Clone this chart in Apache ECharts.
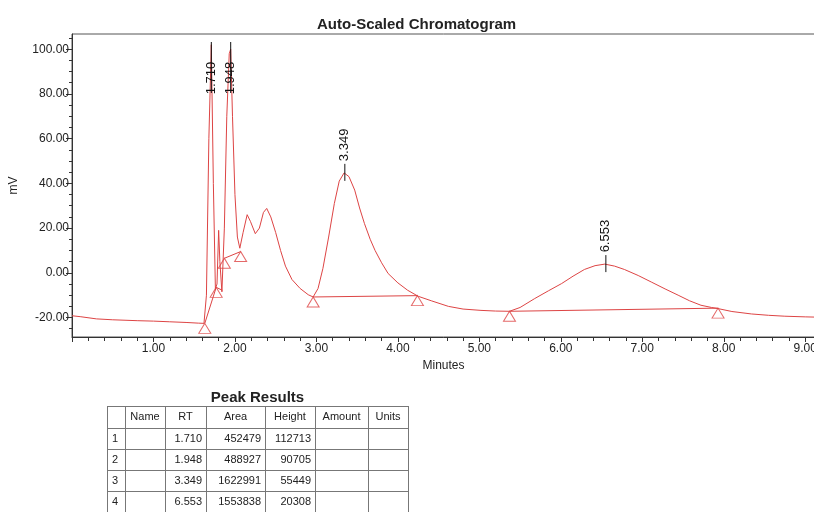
<!DOCTYPE html>
<html>
<head>
<meta charset="utf-8">
<script src="https://cdn.jsdelivr.net/npm/echarts@6/dist/echarts.min.js"></script>
<style>
  html, body { margin: 0; padding: 0; background: #fff; }
  #chart { width: 814px; height: 512px; }
</style>
</head>
<body>
<div id="chart"></div>
<script>
// detector trace, minutes vs mV
const traceTime = [0.00, 0.10, 0.30, 0.50, 0.80, 1.00, 1.20, 1.40, 1.55, 1.62, 1.65, 1.68, 1.71, 1.735, 1.76, 1.78, 1.80, 1.815, 1.84,
  1.87, 1.90, 1.93, 1.948, 1.97, 2.00, 2.03, 2.06, 2.10, 2.15, 2.19, 2.25, 2.30, 2.35, 2.39, 2.44, 2.50, 2.56, 2.62, 2.70, 2.80,
  2.90, 2.96, 3.02, 3.08, 3.15, 3.22, 3.28, 3.34, 3.40, 3.47, 3.53, 3.59, 3.66, 3.72, 3.80, 3.88, 4.00, 4.12, 4.25, 4.41, 4.62,
  4.80, 5.02, 5.20, 5.37, 5.50, 5.68, 5.85, 6.01, 6.15, 6.29, 6.42, 6.54, 6.66, 6.78, 6.95, 7.11, 7.28, 7.44, 7.58, 7.72, 7.85,
  7.93, 8.10, 8.34, 8.55, 8.75, 9.00, 9.12]
const traceMv = [-19.2, -19.6, -20.6, -21.0, -21.4, -21.6, -21.9, -22.2, -22.5, -22.6, -10, 60, 102, 40, -7, -5, 19, 5, -8.5,
  20, 70, 98, 100, 70, 35, 16, 11, 18, 26, 23, 17.5, 20, 27, 28.8, 25, 18, 10, 3, -3, -7,
  -9.8, -10.8, -7, 2, 16, 31, 41, 44.7, 43, 37, 29, 22, 15, 10, 4.5, -0.3, -4.5, -7.8, -10.5, -12.5, -15,
  -16.2, -16.8, -17.1, -17.2, -15.5, -11.5, -8, -4.8, -1.5, 1.5, 3.2, 3.9, 3, 1.5, -1.2, -4.1, -7.2, -10, -12.5, -14.5, -15.5,
  -16, -17.3, -18.4, -19, -19.4, -19.7, -19.8]

// integration baselines (start / end points)
const baselines = [
  [[1.63, -22.6], [1.77, -6.5]],
  [[1.77, -6.5], [1.845, -7.8]],
  [[1.87, 6.5], [2.07, 9.5]],
  [[2.96, -10.8], [4.24, -10.2]],
  [[5.37, -17.2], [7.93, -15.8]]
]
const markerTime = [1.63, 1.77, 1.87, 2.07, 2.96, 4.24, 5.37, 7.93]
const markerMv = [-22.6, -6.5, 6.5, 9.5, -10.8, -10.2, -17.2, -15.8]

// peak apex
const peakRT = [1.710, 1.948, 3.349, 6.553]
const peakApex = [102, 100, 44.7, 3.9]

const yLabels = [-20, 0, 20, 40, 60, 80, 100]
const yMinor = [-25, -20, -15, -10, -5, 0, 5, 10, 15, 20, 25, 30, 35, 40, 45, 50, 55, 60, 65, 70, 75, 80, 85, 90, 95, 100, 105]

const tableHeader = ['', 'Name', 'RT', 'Area', 'Height', 'Amount', 'Units']
const tableRows = [
  ['1', '', '1.710', '452479', '112713', '', ''],
  ['2', '', '1.948', '488927', '90705', '', ''],
  ['3', '', '3.349', '1622991', '55449', '', ''],
  ['4', '', '6.553', '1553838', '20308', '', '']
]

const RED = '#dd4444'
const FONT = '"Liberation Sans", Arial, sans-serif'

// table layout
const colX = [107, 125, 165, 206, 265, 315, 368, 408]
const rowY = [406, 428, 449, 470, 491, 512]

function buildTable () {
  const els = []
  els.push({
    type: 'text', x: (colX[0] + colX[colX.length - 1]) / 2, y: 398,
    style: { text: 'Peak Results', font: 'bold 15px ' + FONT, fill: '#222', align: 'center', verticalAlign: 'middle' }
  })
  colX.forEach(x => {
    els.push({ type: 'line', shape: { x1: x + 0.5, y1: rowY[0], x2: x + 0.5, y2: rowY[rowY.length - 1] }, style: { stroke: '#777', lineWidth: 1 } })
  })
  rowY.forEach(y => {
    els.push({ type: 'line', shape: { x1: colX[0], y1: y + 0.5, x2: colX[colX.length - 1], y2: y + 0.5 }, style: { stroke: '#777', lineWidth: 1 } })
  })
  tableHeader.forEach((t, c) => {
    els.push({
      type: 'text', x: (colX[c] + colX[c + 1]) / 2, y: (rowY[0] + rowY[1]) / 2,
      style: { text: t, font: '11px ' + FONT, fill: '#222', align: 'center', verticalAlign: 'middle' }
    })
  })
  tableRows.forEach((row, r) => {
    const cy = (rowY[r + 1] + rowY[r + 2]) / 2
    row.forEach((t, c) => {
      if (!t) return
      const left = c === 0
      els.push({
        type: 'text', x: left ? colX[c] + 5 : colX[c + 1] - 4, y: cy,
        style: { text: t, font: '11px ' + FONT, fill: '#222', align: left ? 'left' : 'right', verticalAlign: 'middle' }
      })
    })
  })
  return els
}

const chart = echarts.init(document.getElementById('chart'), null, { renderer: 'canvas' })

const series = [
  {
    name: 'trace',
    type: 'line',
    data: traceTime.map((t, i) => [t, traceMv[i]]),
    showSymbol: false,
    lineStyle: { color: RED, width: 1 },
    z: 3
  }
]
baselines.forEach(seg => {
  series.push({
    type: 'line',
    data: seg,
    showSymbol: false,
    lineStyle: { color: RED, width: 1 },
    z: 3
  })
})
series.push({
  type: 'scatter',
  data: markerTime.map((t, i) => [t, markerMv[i]]),
  symbol: 'triangle',
  symbolSize: [12, 10],
  symbolOffset: [0, 5],
  itemStyle: { color: 'rgba(0,0,0,0)', borderColor: RED, borderWidth: 1 },
  z: 4
})
series.push({
  type: 'custom',
  clip: false,
  z: 5,
  data: peakRT.map((t, i) => [t, peakApex[i]]),
  renderItem: function (params, api) {
    const p = api.coord([api.value(0), api.value(1)])
    const top = params.coordSys.y
    const label = api.value(0).toFixed(3)
    const textLen = 34
    let textBottom = p[1] - 11
    let lineTop = p[1] - 9
    let lineBottom = p[1] + 8
    if (textBottom - textLen < top + 26) {
      // no room above the apex: push label down inside the plot
      textBottom = top + 61
      lineTop = top + 8
      lineBottom = textBottom - 2
    }
    return {
      type: 'group',
      children: [
        { type: 'line', shape: { x1: p[0], y1: lineTop, x2: p[0], y2: lineBottom }, style: { stroke: '#111', lineWidth: 1 } },
        {
          type: 'text', x: p[0], y: textBottom - textLen / 2, rotation: Math.PI / 2,
          style: { text: label, font: '13px ' + FONT, fill: '#111', align: 'center', verticalAlign: 'middle' }
        }
      ]
    }
  }
})

const option = {
  animation: false,
  backgroundColor: '#fff',
  title: {
    text: 'Auto-Scaled Chromatogram',
    left: 312,
    top: 12,
    textStyle: { fontFamily: FONT, fontSize: 15, fontWeight: 'bold', color: '#222' }
  },
  grid: {
    left: 72,
    top: 34,
    right: -1,
    bottom: 175,
    outerBoundsMode: 'none',
    containLabel: false,
    show: true,
    borderColor: '#555',
    borderWidth: 1
  },
  xAxis: {
    type: 'value',
    min: 0,
    max: 9.12,
    interval: 1,
    name: 'Minutes',
    nameLocation: 'middle',
    nameGap: 20,
    nameTextStyle: { fontFamily: FONT, fontSize: 12, color: '#222' },
    axisLine: { onZero: false, lineStyle: { color: '#333' } },
    axisTick: { length: 5, lineStyle: { color: '#333' } },
    minorTick: { show: true, splitNumber: 5, length: 4, lineStyle: { color: '#333' } },
    splitLine: { show: false },
    axisLabel: {
      showMinLabel: false,
      showMaxLabel: false,
      margin: 6,
      fontFamily: FONT,
      fontSize: 12,
      color: '#222',
      formatter: v => v.toFixed(2)
    }
  },
  yAxis: [
    {
      type: 'value',
      min: -28.7,
      max: 106.8,
      name: 'mV',
      nameLocation: 'middle',
      nameGap: 52,
      nameRotate: 90,
      nameTextStyle: { fontFamily: FONT, fontSize: 12, color: '#222' },
      axisLine: { show: true, onZero: false, lineStyle: { color: '#333' } },
      axisTick: { show: true, length: 6, customValues: yLabels, lineStyle: { color: '#333' } },
      splitLine: { show: false },
      axisLabel: {
        customValues: yLabels,
        margin: 3,
        fontFamily: FONT,
        fontSize: 12,
        color: '#222',
        formatter: v => v.toFixed(2)
      }
    },
    {
      type: 'value',
      min: -28.7,
      max: 106.8,
      position: 'left',
      axisLine: { show: false, onZero: false },
      axisTick: { show: true, length: 3, customValues: yMinor, lineStyle: { color: '#333' } },
      axisLabel: { show: false },
      splitLine: { show: false }
    }
  ],
  graphic: buildTable(),
  series: series
}

chart.setOption(option)
</script>
</body>
</html>
